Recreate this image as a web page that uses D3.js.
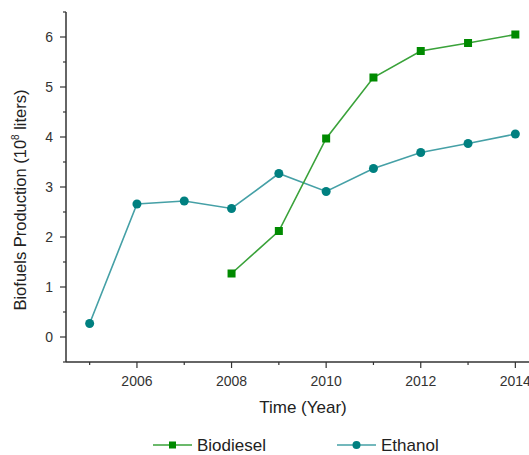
<!DOCTYPE html>
<html>
<head>
<meta charset="utf-8">
<script src="https://cdn.jsdelivr.net/npm/d3@7"></script>
<style>
  html, body { margin: 0; padding: 0; background: #fff; }
  svg { display: block; font-family: "Liberation Sans", Arial, sans-serif; }
</style>
</head>
<body>
<svg width="529" height="455"></svg>
<script>
// data
const years = [2005, 2006, 2007, 2008, 2009, 2010, 2011, 2012, 2013, 2014];
const ethanol = [0.27, 2.66, 2.72, 2.57, 3.27, 2.91, 3.37, 3.69, 3.87, 4.06];
const bioYears = [2008, 2009, 2010, 2011, 2012, 2013, 2014];
const biodiesel = [1.27, 2.12, 3.97, 5.19, 5.72, 5.88, 6.05];
const xTicks = [2006, 2008, 2010, 2012, 2014];
const yTicks = [0, 1, 2, 3, 4, 5, 6];

const svg = d3.select("svg");
const area = { left: 66, right: 539, top: 12, bottom: 362 };

const scX = d3.scaleLinear().domain([2004.5, 2014.5]).range([area.left, area.right]);
const scY = d3.scaleLinear().domain([-0.5, 6.5]).range([area.bottom, area.top]);

const axisColor = "#333";
const textColor = "#333";

// x axis
const gx = svg.append("g").attr("transform", `translate(0, ${area.bottom})`);
gx.append("line").attr("x1", area.left).attr("x2", area.right)
    .attr("stroke", axisColor).attr("stroke-width", 1.5);
gx.selectAll(".minor").data(d3.range(2005, 2015, 2)).enter().append("line")
    .attr("x1", d => scX(d)).attr("x2", d => scX(d)).attr("y1", 0).attr("y2", 3)
    .attr("stroke", axisColor).attr("stroke-width", 1.2);
gx.selectAll(".major").data(xTicks).enter().append("line")
    .attr("x1", d => scX(d)).attr("x2", d => scX(d)).attr("y1", 0).attr("y2", 6)
    .attr("stroke", axisColor).attr("stroke-width", 1.2);
gx.selectAll("text").data(xTicks).enter().append("text")
    .attr("x", d => scX(d)).attr("y", 24)
    .attr("text-anchor", "middle").attr("font-size", 14).attr("fill", textColor)
    .text(d => d);

// y axis
const gy = svg.append("g").attr("transform", `translate(${area.left}, 0)`);
gy.append("line").attr("y1", area.top).attr("y2", area.bottom)
    .attr("stroke", axisColor).attr("stroke-width", 1.5);
gy.selectAll(".minor").data(d3.range(-0.5, 6.6, 1)).enter().append("line")
    .attr("y1", d => scY(d)).attr("y2", d => scY(d)).attr("x1", 0).attr("x2", -3)
    .attr("stroke", axisColor).attr("stroke-width", 1.2);
gy.selectAll(".major").data(yTicks).enter().append("line")
    .attr("y1", d => scY(d)).attr("y2", d => scY(d)).attr("x1", 0).attr("x2", -6)
    .attr("stroke", axisColor).attr("stroke-width", 1.2);
gy.selectAll("text").data(yTicks).enter().append("text")
    .attr("x", -13).attr("y", d => scY(d)).attr("dy", "0.35em")
    .attr("text-anchor", "end").attr("font-size", 14).attr("fill", textColor)
    .text(d => d);

// axis titles
svg.append("text").attr("x", 303).attr("y", 413)
    .attr("text-anchor", "middle").attr("font-size", 17).attr("fill", "#222")
    .text("Time (Year)");

const yTitle = svg.append("text")
    .attr("transform", `translate(26, 200) rotate(-90)`)
    .attr("text-anchor", "middle").attr("font-size", 16.5).attr("fill", "#222");
yTitle.append("tspan").text("Biofuels Production (10");
yTitle.append("tspan").attr("dy", -7).attr("font-size", 10).text("8");
yTitle.append("tspan").attr("dy", 7).text(" liters)");

// series
const green = "#008a00", greenLine = "#3aa23a";
const teal = "#008080", tealLine = "#45a0a6";

const line = d3.line().x(d => scX(d[0])).y(d => scY(d[1]));

const ethData = years.map((y, i) => [y, ethanol[i]]);
const bioData = bioYears.map((y, i) => [y, biodiesel[i]]);

svg.append("path").datum(ethData).attr("d", line)
    .attr("fill", "none").attr("stroke", tealLine).attr("stroke-width", 1.6);
svg.selectAll(".eth").data(ethData).enter().append("circle")
    .attr("cx", d => scX(d[0])).attr("cy", d => scY(d[1])).attr("r", 4.5)
    .attr("fill", teal);

svg.append("path").datum(bioData).attr("d", line)
    .attr("fill", "none").attr("stroke", greenLine).attr("stroke-width", 1.6);
svg.selectAll(".bio").data(bioData).enter().append("rect")
    .attr("x", d => scX(d[0]) - 4).attr("y", d => scY(d[1]) - 4)
    .attr("width", 8).attr("height", 8).attr("fill", green);

// legend
const legend = [
    { name: "Biodiesel", x: 153, color: greenLine, mark: green, shape: "square" },
    { name: "Ethanol", x: 337, color: tealLine, mark: teal, shape: "circle" }
];
const ly = 445;
legend.forEach(l => {
    const g = svg.append("g");
    g.append("line").attr("x1", l.x).attr("x2", l.x + 39).attr("y1", ly).attr("y2", ly)
        .attr("stroke", l.color).attr("stroke-width", 1.6);
    if (l.shape === "square") {
        g.append("rect").attr("x", l.x + 19.5 - 3.5).attr("y", ly - 3.5)
            .attr("width", 7).attr("height", 7).attr("fill", l.mark);
    } else {
        g.append("circle").attr("cx", l.x + 19.5).attr("cy", ly).attr("r", 4).attr("fill", l.mark);
    }
    g.append("text").attr("x", l.x + 44).attr("y", ly).attr("dy", "0.35em")
        .attr("font-size", 17).attr("fill", "#222").text(l.name);
});
</script>
</body>
</html>
